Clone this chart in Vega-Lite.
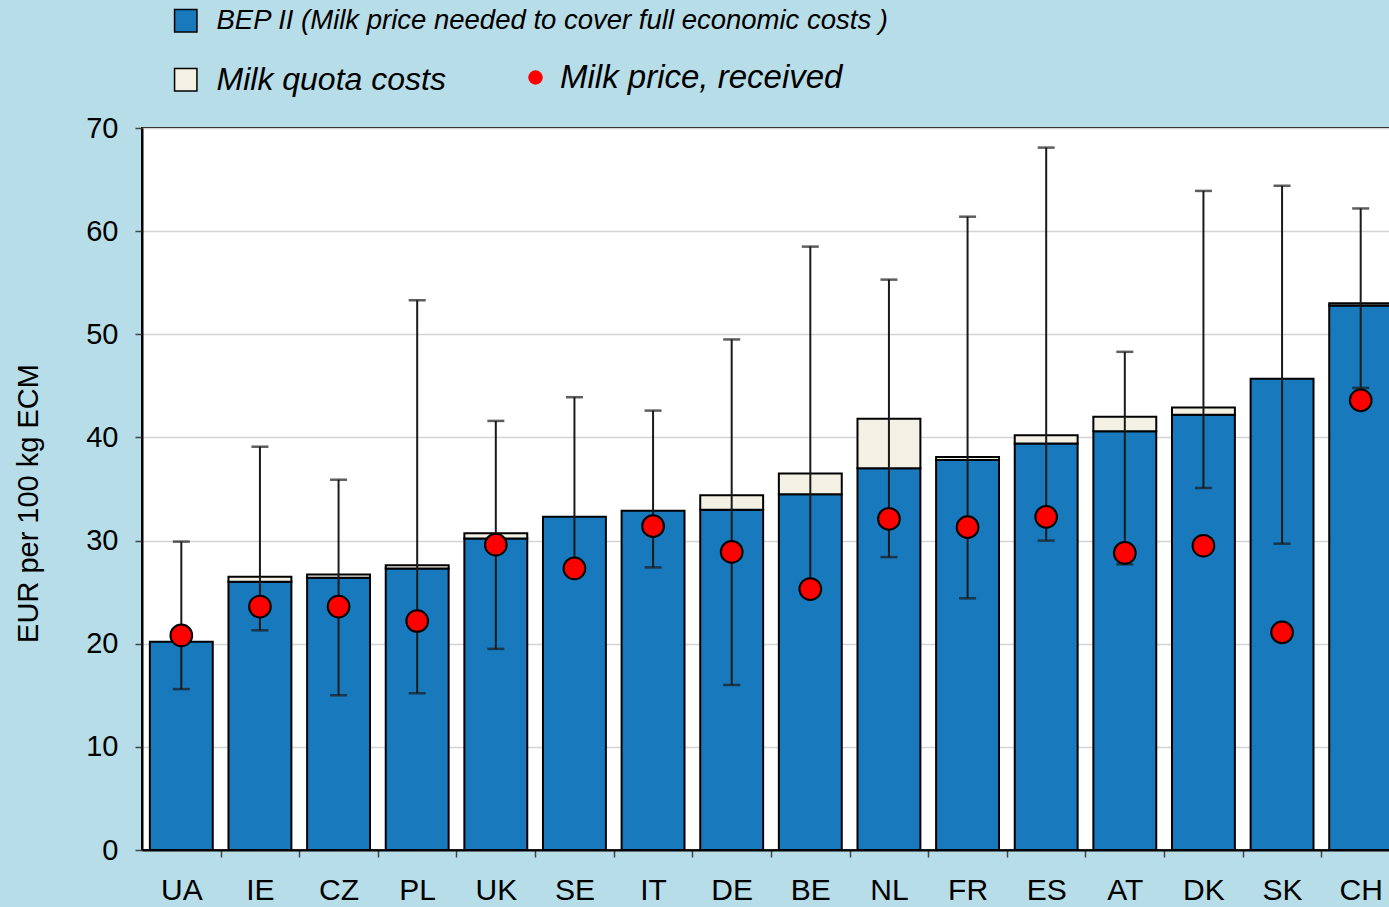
{
  "$schema": "https://vega.github.io/schema/vega-lite/v6.json",
  "autosize": "none",
  "padding": {"left": 142, "top": 128, "right": 0, "bottom": 57},
  "width": 1258,
  "height": 722,
  "background": "#b7dde8",
  "config": {
    "font": "Liberation Sans",
    "view": {"fill": "white", "stroke": "black", "strokeWidth": 2}
  },
  "data": {
    "values": [
      {"country": "UA", "bep": 20.2, "total": 20.2, "price": 20.8, "lo": 15.6, "hi": 29.9},
      {"country": "IE", "bep": 26.0, "total": 26.5, "price": 23.6, "lo": 21.3, "hi": 39.1},
      {"country": "CZ", "bep": 26.4, "total": 26.7, "price": 23.6, "lo": 15.0, "hi": 35.9},
      {"country": "PL", "bep": 27.3, "total": 27.6, "price": 22.2, "lo": 15.2, "hi": 53.3},
      {"country": "UK", "bep": 30.2, "total": 30.7, "price": 29.6, "lo": 19.5, "hi": 41.6},
      {"country": "SE", "bep": 32.3, "total": 32.3, "price": 27.3, "lo": 27.3, "hi": 43.9},
      {"country": "IT", "bep": 32.9, "total": 32.9, "price": 31.4, "lo": 27.4, "hi": 42.6},
      {"country": "DE", "bep": 33.0, "total": 34.4, "price": 28.9, "lo": 16.0, "hi": 49.5},
      {"country": "BE", "bep": 34.5, "total": 36.5, "price": 25.3, "lo": 24.8, "hi": 58.5},
      {"country": "NL", "bep": 37.0, "total": 41.8, "price": 32.1, "lo": 28.4, "hi": 55.3},
      {"country": "FR", "bep": 37.8, "total": 38.1, "price": 31.3, "lo": 24.4, "hi": 61.4},
      {"country": "ES", "bep": 39.4, "total": 40.2, "price": 32.3, "lo": 30.0, "hi": 68.1},
      {"country": "AT", "bep": 40.6, "total": 42.0, "price": 28.8, "lo": 27.7, "hi": 48.3},
      {"country": "DK", "bep": 42.2, "total": 42.9, "price": 29.5, "lo": 35.1, "hi": 63.9},
      {"country": "SK", "bep": 45.7, "total": 45.7, "price": 21.1, "lo": 29.7, "hi": 64.4},
      {"country": "CH", "bep": 52.8, "total": 53.0, "price": 43.6, "lo": 44.8, "hi": 62.2}
    ]
  },
  "encoding": {
    "x": {
      "field": "country", "type": "nominal", "sort": null,
      "scale": {"paddingInner": 0.2, "paddingOuter": 0.1},
      "axis": {
        "title": null, "labelAngle": 0, "labelFontSize": 30, "labelColor": "black",
        "labelPadding": 18, "tickSize": 7, "tickColor": "#444", "tickWidth": 1.5,
        "tickOffset": 39.3, "labelOffset": -39.3,
        "domainColor": "black", "domainWidth": 2, "grid": false
      }
    }
  },
  "layer": [
    {
      "mark": {"type": "bar", "stroke": "black", "strokeWidth": 2},
      "encoding": {
        "y": {
          "field": "bep", "type": "quantitative",
          "scale": {"domain": [0, 70]},
          "axis": {
            "title": "EUR per 100 kg ECM", "titleFontSize": 29, "titleFontWeight": "normal",
            "titleColor": "black", "titlePadding": 42, "titleY": 375,
            "values": [0, 10, 20, 30, 40, 50, 60, 70],
            "labelFontSize": 29, "labelColor": "black", "labelPadding": 17,
            "tickSize": 7, "tickColor": "#444", "tickWidth": 1.5,
            "domainColor": "black", "domainWidth": 2,
            "grid": true, "gridColor": "#d4d4d4", "gridWidth": 1.5
          }
        },
        "fill": {
          "datum": "BEP II (Milk price needed to cover full economic costs )",
          "scale": {
            "domain": ["BEP II (Milk price needed to cover full economic costs )", "Milk quota costs"],
            "range": ["#1879bc", "#f3f1e4"]
          },
          "legend": {
            "title": null, "orient": "none", "legendX": 30, "legendY": -121, "direction": "vertical",
            "padding": 0, "symbolType": "square", "symbolSize": 500, "symbolStrokeColor": "black",
            "symbolStrokeWidth": 1.5,
            "labelFontSize": {"expr": "datum.label == 'Milk quota costs' ? 32 : 27.5"},
            "labelFontStyle": "italic",
            "labelColor": "black", "labelOffset": 17, "rowPadding": 28, "labelLimit": 900
          }
        }
      }
    },
    {
      "transform": [{"filter": "datum.total > datum.bep"}],
      "mark": {"type": "bar", "stroke": "black", "strokeWidth": 2},
      "encoding": {
        "y": {"field": "bep", "type": "quantitative"},
        "y2": {"field": "total"},
        "fill": {"datum": "Milk quota costs"}
      }
    },
    {
      "mark": {"type": "rule", "color": "#1a1a1a", "strokeWidth": 2},
      "encoding": {
        "y": {"field": "lo", "type": "quantitative"},
        "y2": {"field": "hi"}
      }
    },
    {
      "mark": {"type": "tick", "color": "#1a1a1a", "size": 17, "thickness": 2.5},
      "encoding": {"y": {"field": "hi", "type": "quantitative"}}
    },
    {
      "mark": {"type": "tick", "color": "#1a1a1a", "size": 17, "thickness": 2.5},
      "encoding": {"y": {"field": "lo", "type": "quantitative"}}
    },
    {
      "mark": {"type": "point", "filled": true, "fill": "#ff0000", "stroke": "black", "strokeWidth": 2, "size": 470, "opacity": 1},
      "encoding": {
        "y": {"field": "price", "type": "quantitative"},
        "shape": {
          "datum": "Milk price, received",
          "scale": {"domain": ["Milk price, received"], "range": ["circle"]},
          "legend": {
            "title": null, "orient": "none", "legendX": 377, "legendY": -67,
            "padding": 0, "symbolSize": 210, "symbolFillColor": "#ff0000", "symbolStrokeColor": "black",
            "symbolStrokeWidth": 1.5, "labelFontSize": 33, "labelFontStyle": "italic",
            "labelColor": "black", "labelOffset": 8, "labelLimit": 900
          }
        }
      }
    }
  ]
}
